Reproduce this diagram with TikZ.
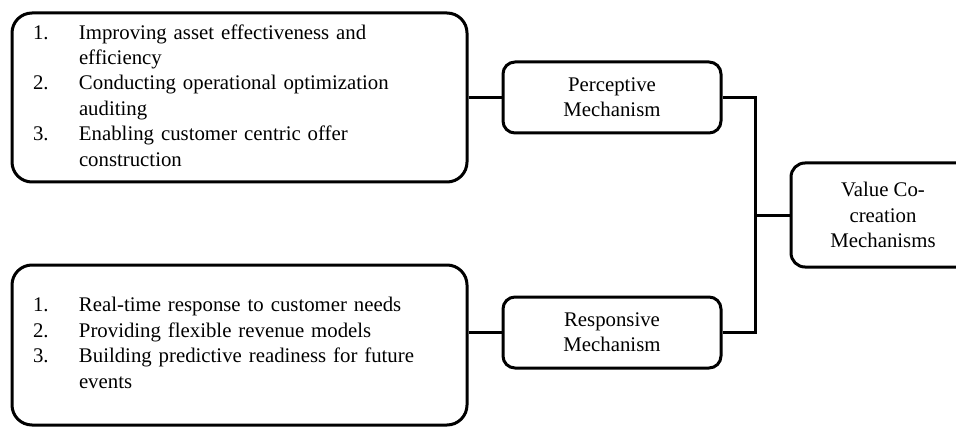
\documentclass[tikz,border=0pt]{standalone}
\usepackage{fontspec}
\setmainfont{Liberation Serif}
\begin{document}
\begin{tikzpicture}[x=.5pt,y=-.5pt,line width=1.5pt,
    font=\fontsize{10.4}{12.7}\selectfont,
    listbox/.style={draw,rounded corners=10pt,minimum width=227.5pt,
      text width=206.5pt,inner xsep=10.5pt,inner ysep=0pt,align=left},
    mechbox/.style={draw,rounded corners=6pt,align=center,inner sep=0pt,
      minimum width=109pt,minimum height=35.5pt}]
  \useasboundingbox (0,0) rectangle (956,427);
  \node[listbox,minimum height=84.5pt] (plist) at (239.5,97.5) {%
    \begin{tabular}{@{}p{23pt}@{}l@{}}
      1. & Improving asset effectiveness and\\
         & efficiency\\
      2. & Conducting operational optimization\\
         & auditing\\
      3. & Enabling customer centric offer\\
         & construction
    \end{tabular}};
  \node[listbox,minimum height=80pt] (rlist) at (239.5,345) {%
    \begin{tabular}{@{}p{23pt}@{}l@{}}
      1. & Real-time response to customer needs\\
      2. & Providing flexible revenue models\\
      3. & Building predictive readiness for future\\
         & events
    \end{tabular}};
  \node[mechbox] (perc) at (612,97.5) {Perceptive\\Mechanism};
  \node[mechbox] (resp) at (612,332.5) {Responsive\\Mechanism};
  \node[mechbox,rounded corners=7pt,minimum width=92pt,minimum height=52pt]
    (value) at (883,215) {Value Co-\\creation\\Mechanisms};
  \coordinate (j) at (755,215);
  \draw (plist.east) -- (perc.west);
  \draw (rlist.east |- resp.west) -- (resp.west);
  \draw (perc.east) -| (j) -- (value.west);
  \draw (resp.east) -| (j);
\end{tikzpicture}
\end{document}
